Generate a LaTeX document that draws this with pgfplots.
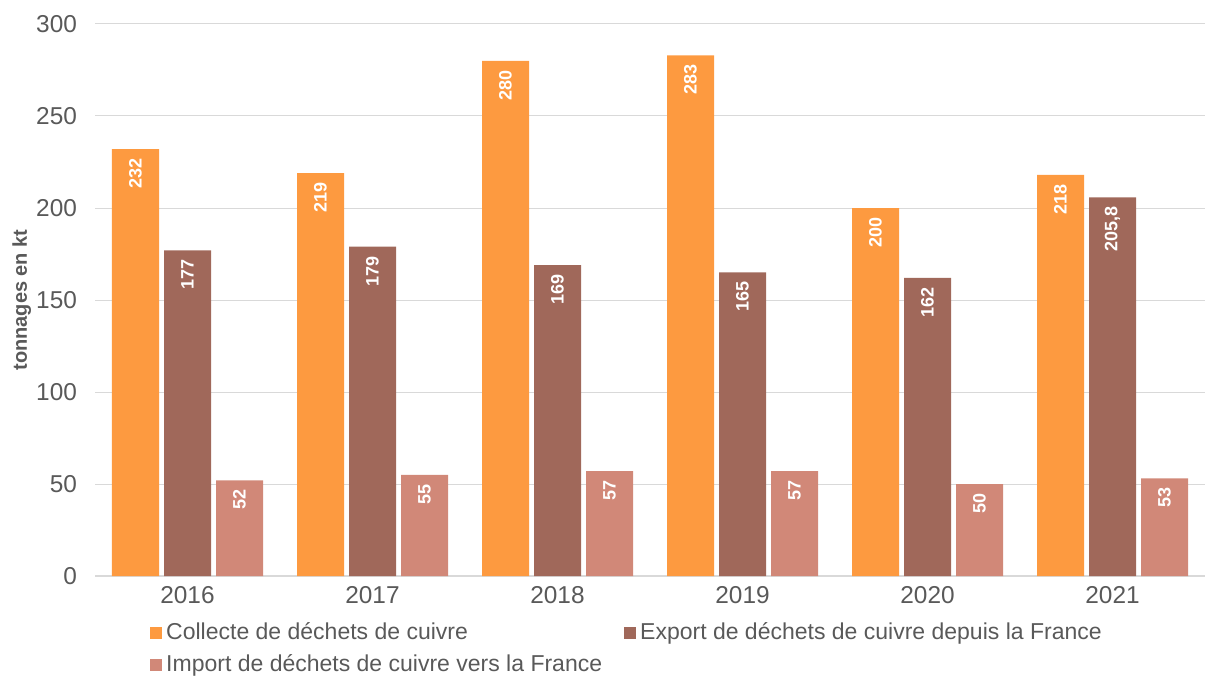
\documentclass[border=0pt]{standalone}
\usepackage{fontspec}
\setmainfont{Liberation Sans}
\usepackage{pgfplots}
\pgfplotsset{compat=1.18}

\definecolor{collecte}{HTML}{FD9A40}
\definecolor{export}{HTML}{A0685A}
\definecolor{import}{HTML}{D18878}
\definecolor{txtgray}{HTML}{595959}
\definecolor{gridgray}{HTML}{D9D9D9}

\begin{document}
\begin{tikzpicture}
\begin{axis}[
    name=ax,
    width=555pt, height=276pt,
    scale only axis,
    ybar=2.5pt,
    bar width=23.5pt,
    xmin=-0.5, xmax=5.5,
    ymin=0, ymax=300,
    xtick={0,1,2,3,4,5},
    xticklabels={2016,2017,2018,2019,2020,2021},
    ytick={0,50,100,150,200,250,300},
    ymajorgrids,
    grid style={gridgray, line width=0.5pt},
    axis x line*=bottom,
    axis y line*=left,
    y axis line style={draw=none},
    x axis line style={gridgray, line width=0.6pt, -},
    major tick length=0pt,
    tick label style={font=\fontsize{12.2}{14}\selectfont, text=txtgray},
    yticklabel style={xshift=-5.5pt},
    xticklabel style={yshift=-1.5pt},
    /pgf/number format/assume math mode=true,
    ylabel={\textbf{tonnages en kt}},
    ylabel style={font=\fontsize{10}{12}\selectfont, text=txtgray, anchor=center,
        at={(axis description cs:-0.066,0.5)}},
    nodes near coords={\pgfmathprintnumber[use comma]{\pgfplotspointmeta}},
    every node near coord/.append style={rotate=90, anchor=east, inner xsep=4.5pt,
        text=white, font=\fontsize{9}{10}\selectfont\bfseries},
    legend columns=2,
    legend cell align=left,
    legend style={draw=none, fill=none, font=\fontsize{11.5}{14}\selectfont, text=txtgray,
        at={(axis description cs:0.044,-0.07)}, anchor=north west,
        /tikz/every even column/.append style={column sep=9pt},
        row sep=2pt},
    legend image code/.code={\fill[#1] (0pt,-2.8pt) rectangle (6pt,3.2pt);},
]
\addplot[fill=collecte, draw=none] coordinates {(0,232) (1,219) (2,280) (3,283) (4,200) (5,218)};
\addplot[fill=export, draw=none] coordinates {(0,177) (1,179) (2,169) (3,165) (4,162) (5,205.8)};
\addplot[fill=import, draw=none] coordinates {(0,52) (1,55) (2,57) (3,57) (4,50) (5,53)};
\legend{Collecte de déchets de cuivre,Export de déchets de cuivre depuis la France,Import de déchets de cuivre vers la France}
\end{axis}
\pgfresetboundingbox
\path ([shift={(-47.5pt,-49.5pt)}]ax.south west) rectangle ([shift={(0.5pt,12pt)}]ax.north east);
\end{tikzpicture}
\end{document}
